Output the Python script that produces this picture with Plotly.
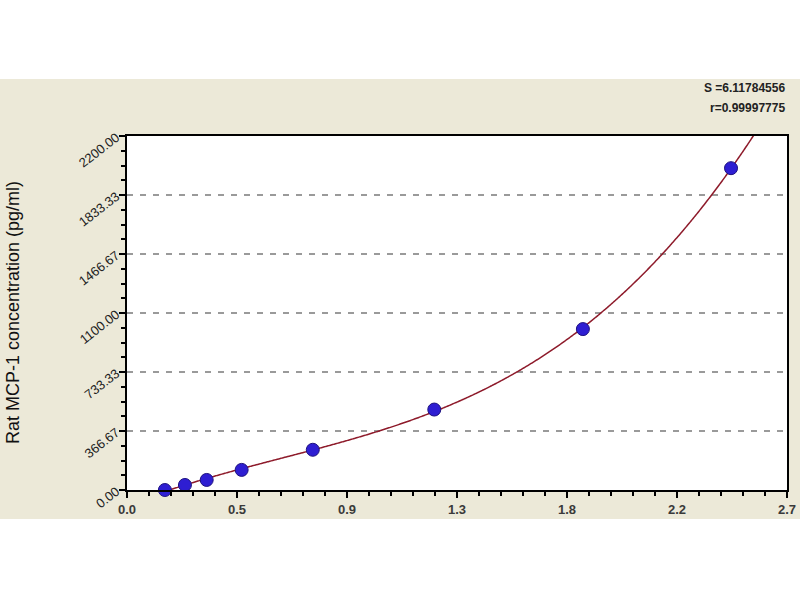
import numpy as np
import plotly.graph_objects as go

od = [0.155, 0.237, 0.326, 0.469, 0.760, 1.257, 1.865, 2.471]
conc = [0.0, 31.25, 62.5, 125.0, 250.0, 500.0, 1000.0, 2000.0]

x_tickvals = [0.0, 0.45, 0.9, 1.35, 1.8, 2.25, 2.7]
x_ticktext = ["<b>0.0</b>", "<b>0.5</b>", "<b>0.9</b>", "<b>1.3</b>", "<b>1.8</b>", "<b>2.2</b>", "<b>2.7</b>"]
y_tickvals = [0.0, 366.67, 733.33, 1100.0, 1466.67, 1833.33, 2200.0]
y_ticktext = ["0.00", "366.67", "733.33", "1100.00", "1466.67", "1833.33", "2200.00"]

stat_s = "S =6.11784556"
stat_r = "r=0.99997775"
y_title = "Rat MCP-1 concentration (pg/ml)"

# fitted curve from the standards
coef = np.polyfit(od, conc, 3)
xf = np.linspace(od[0], 2.6, 400)
yf = np.polyval(coef, xf)
mask = yf <= 2300
xf, yf = xf[mask], yf[mask]

fig = go.Figure()
fig.add_trace(go.Scatter(x=xf, y=yf, mode="lines",
                         line=dict(color="#8E1B2B", width=1.5, shape="spline"),
                         hoverinfo="skip", showlegend=False))
fig.add_trace(go.Scatter(x=od, y=conc, mode="markers", cliponaxis=False,
                         marker=dict(symbol="circle", size=13, color="#2E1ED2",
                                     line=dict(color="#1E1280", width=1)),
                         showlegend=False))

L, R, T, B = 127, 13, 136, 110
W, H = 800, 600
pw, ph = W - L - R, H - T - B

fig.add_shape(type="rect", xref="paper", yref="paper",
              x0=-L / pw, x1=(W - L) / pw,
              y0=(H - B - 519) / ph, y1=(H - B - 79) / ph,
              fillcolor="#ECE9D8", line=dict(width=0), layer="below")
fig.add_shape(type="rect", xref="x domain", yref="y domain",
              x0=0, x1=1, y0=0, y1=1,
              fillcolor="white", line=dict(width=0), layer="below")

fig.add_annotation(text="<b>" + stat_s + "</b>", xref="paper", yref="paper", x=1.0,
                   y=(H - B - 88) / ph, xanchor="right", yanchor="middle", showarrow=False,
                   font=dict(family="Liberation Sans", size=12, color="#222222"))
fig.add_annotation(text="<b>" + stat_r + "</b>", xref="paper", yref="paper", x=1.0,
                   y=(H - B - 108) / ph, xanchor="right", yanchor="middle", showarrow=False,
                   font=dict(family="Liberation Sans", size=12, color="#222222"))
fig.add_annotation(text=y_title, xref="paper", yref="paper", x=(13 - L) / pw,
                   y=(H - B - 313) / ph, xanchor="center", yanchor="middle",
                   textangle=-90, showarrow=False,
                   font=dict(family="Liberation Sans", size=18, color="#111111"))

fig.update_xaxes(range=[0, 2.7], tickvals=x_tickvals, ticktext=x_ticktext,
                 showgrid=False, zeroline=False, showline=True, linecolor="black",
                 linewidth=2, mirror=True, ticks="outside", ticklen=6, tickwidth=2,
                 tickcolor="black",
                 tickfont=dict(family="Liberation Sans", size=13, color="#3A3A3A"),
                 minor=dict(dtick=0.09, tick0=0, ticks="outside", ticklen=4,
                            tickwidth=1.5, tickcolor="black", showgrid=False))
fig.update_yaxes(range=[0, 2200], tickvals=y_tickvals, ticktext=y_ticktext,
                 showgrid=True, gridcolor="#9A9A9A", griddash="6px,7px", gridwidth=1.5,
                 zeroline=False, showline=True, linecolor="black",
                 linewidth=2, mirror=True, ticks="outside", ticklen=6, tickwidth=2,
                 tickcolor="black", tickangle=-38,
                 tickfont=dict(family="Liberation Sans", size=13, color="#222222"),
                 minor=dict(dtick=91.6667, tick0=0, ticks="outside", ticklen=4,
                            tickwidth=1.5, tickcolor="black", showgrid=False))

fig.update_layout(width=W, height=H, margin=dict(l=L, r=R, t=T, b=B, autoexpand=False),
                  paper_bgcolor="white", plot_bgcolor="rgba(0,0,0,0)",
                  showlegend=False)

fig.write_html("out.html", config={"displayModeBar": False},
               post_script="document.body.style.margin='0';document.body.style.overflow='hidden';")
